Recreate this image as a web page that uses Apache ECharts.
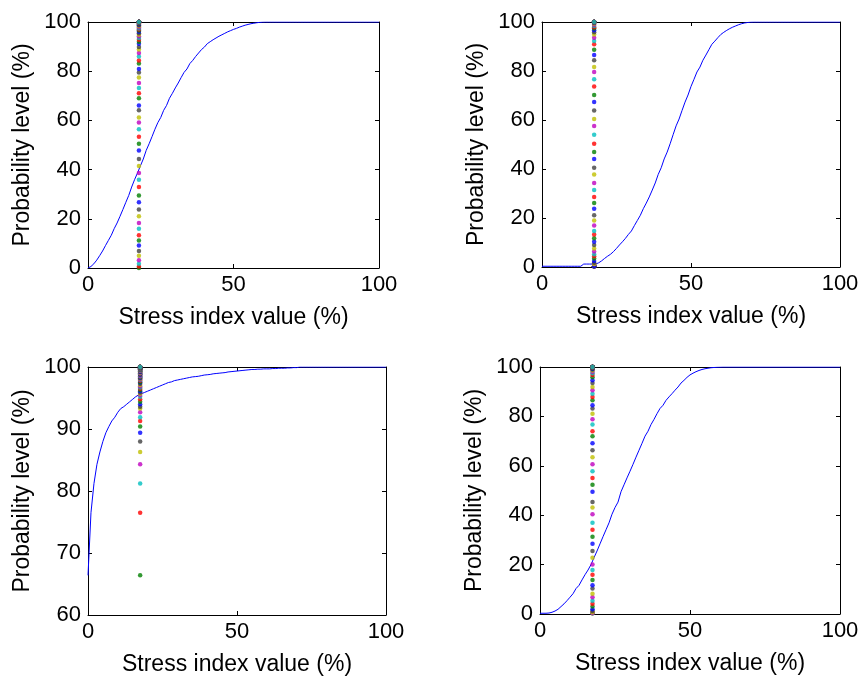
<!DOCTYPE html>
<html>
<head>
<meta charset="utf-8">
<script src="https://cdn.jsdelivr.net/npm/echarts/dist/echarts.min.js"></script>
<style>
    html, body { margin: 0; padding: 0; background: #fff; }
    #main { width: 863px; height: 678px; }
</style>
</head>
<body>
<div id="main"></div>
<script>
// x positions of the curve samples (stress index 0..100)
var stressIndex = [];
for (var k = 0; k <= 100; k++) {
    stressIndex.push(k);
}
// where the coloured dots are stacked
var markerX = 17.5;

// probability level (%)
var panel1 = [0, 0.6, 1.7, 3.2, 5.0, 6.9, 9.1, 11.2, 13.3, 16.0,
    18.3, 21.0, 23.8, 26.7, 29.5, 32.9, 35.9, 38.6, 41.5, 44.3,
    47.8, 50.5, 53.4, 56.4, 59.1, 61.2, 64.1, 66.1, 69.0, 71.0,
    73.2, 75.2, 77.4, 79.5, 80.9, 83.1, 84.4, 86.0, 87.4, 88.8,
    89.8, 91.2, 92.0, 92.8, 93.5, 94.2, 94.8, 95.4, 96.0, 96.5,
    97.0, 97.4, 97.9, 98.3, 98.7, 99.0, 99.3, 99.5, 99.7, 99.85,
    99.95, 100, 100, 100, 100, 100, 100, 100, 100, 100,
    100, 100, 100, 100, 100, 100, 100, 100, 100, 100,
    100, 100, 100, 100, 100, 100, 100, 100, 100, 100,
    100, 100, 100, 100, 100, 100, 100, 100, 100, 100, 100];

var panel2 = [0.3, 0.3, 0.3, 0.3, 0.3, 0.3, 0.3, 0.3, 0.3, 0.3,
    0.3, 0.3, 0.3, 0.3, 1.2, 1.2, 1.2, 1.2, 1.2, 1.7,
    2.5, 3.5, 4.4, 5.2, 6.3, 7.6, 9.0, 10.3, 11.7, 13.3,
    14.7, 16.9, 19.0, 21.1, 23.8, 26.1, 28.6, 31.4, 34.3, 37.8,
    40.5, 44.1, 46.9, 50.3, 54.0, 57.6, 60.4, 63.9, 67.3, 70.2,
    73.7, 76.6, 79.6, 81.6, 84.4, 86.5, 88.7, 90.9, 92.2, 93.6,
    94.9, 95.8, 96.6, 97.3, 97.9, 98.4, 98.9, 99.3, 99.6, 99.8,
    99.95, 100, 100, 100, 100, 100, 100, 100, 100, 100,
    100, 100, 100, 100, 100, 100, 100, 100, 100, 100,
    100, 100, 100, 100, 100, 100, 100, 100, 100, 100, 100];

var panel3 = [66.4, 76.5, 81.2, 84.3, 86.3, 88.0, 89.4, 90.4, 91.3, 91.9,
    92.7, 93.3, 93.6, 94.0, 94.4, 94.8, 95.2, 95.5, 95.7, 95.9,
    96.1, 96.3, 96.5, 96.7, 96.9, 97.1, 97.3, 97.5, 97.6, 97.8,
    97.9, 98.0, 98.1, 98.2, 98.3, 98.4, 98.45, 98.5, 98.6, 98.7,
    98.75, 98.8, 98.9, 98.95, 99.0, 99.05, 99.1, 99.2, 99.25, 99.3,
    99.35, 99.4, 99.45, 99.5, 99.55, 99.6, 99.6, 99.65, 99.65, 99.7,
    99.7, 99.7, 99.75, 99.75, 99.8, 99.8, 99.8, 99.85, 99.85, 99.9,
    99.9, 100, 100, 100, 100, 100, 100, 100, 100, 100,
    100, 100, 100, 100, 100, 100, 100, 100, 100, 100,
    100, 100, 100, 100, 100, 100, 100, 100, 100, 100, 100];

var panel4 = [0.3, 0.3, 0.3, 0.4, 0.7, 1.2, 1.9, 3.0, 4.1, 5.4,
    6.8, 8.2, 10.3, 11.6, 13.8, 15.9, 17.8, 20.0, 22.8, 25.5,
    28.4, 31.3, 34.1, 36.9, 40.4, 43.1, 45.3, 49.5, 52.3, 55.1,
    57.8, 60.6, 63.5, 66.3, 69.1, 72.0, 74.0, 76.7, 78.8, 81.1,
    83.2, 84.5, 86.5, 87.9, 89.2, 90.6, 91.9, 93.5, 94.6, 95.8,
    96.8, 97.5, 98.1, 98.6, 99.0, 99.3, 99.5, 99.7, 99.8, 99.9,
    99.95, 100, 100, 100, 100, 100, 100, 100, 100, 100,
    100, 100, 100, 100, 100, 100, 100, 100, 100, 100,
    100, 100, 100, 100, 100, 100, 100, 100, 100, 100,
    100, 100, 100, 100, 100, 100, 100, 100, 100, 100, 100];

var xTicks = { min: 0, max: 100, interval: 50 };
var yTicks = [
    { min: 0, max: 100, interval: 20 },
    { min: 0, max: 100, interval: 20 },
    { min: 60, max: 100, interval: 10 },
    { min: 0, max: 100, interval: 20 }
];
var panels = [panel1, panel2, panel3, panel4];

// matlab's old colour order, the dots start after the blue line
var dotColors = ['#008000', '#FF0000', '#00BFBF', '#BF00BF', '#BFBF00', '#404040', '#0000FF'];

var grids = [
    { left: 88, top: 22, width: 291, height: 246 },
    { left: 542, top: 22, width: 298, height: 245 },
    { left: 88, top: 367, width: 298, height: 248 },
    { left: 540, top: 367, width: 300, height: 247 }
];

var font = 'Liberation Sans, Arial, sans-serif';
var xAxes = [], yAxes = [], series = [];

for (var i = 0; i < 4; i++) {
    var lineData = [], dotData = [];
    for (var j = 0; j < stressIndex.length; j++) {
        lineData.push([stressIndex[j], panels[i][j]]);
        dotData.push([markerX, panels[i][j]]);
    }
    // bottom + top x axis (box)
    xAxes.push({
        gridIndex: i, type: 'value', position: 'bottom',
        min: xTicks.min, max: xTicks.max, interval: xTicks.interval,
        name: 'Stress index value (%)', nameLocation: 'middle', nameGap: 38,
        nameTextStyle: { fontSize: 23, color: '#000', fontFamily: font },
        axisLine: { show: true, onZero: false, lineStyle: { color: '#000', width: 1 } },
        axisTick: { inside: true, length: 4, lineStyle: { color: '#000' } },
        axisLabel: { fontSize: 22, color: '#000', margin: 6, fontFamily: font },
        splitLine: { show: false }
    });
    xAxes.push({
        gridIndex: i, type: 'value', position: 'top',
        min: xTicks.min, max: xTicks.max, interval: xTicks.interval,
        axisLine: { show: true, onZero: false, lineStyle: { color: '#000', width: 1 } },
        axisTick: { inside: true, length: 4, lineStyle: { color: '#000' } },
        axisLabel: { show: false },
        splitLine: { show: false }
    });
    // left + right y axis
    yAxes.push({
        gridIndex: i, type: 'value', position: 'left',
        min: yTicks[i].min, max: yTicks[i].max, interval: yTicks[i].interval,
        name: 'Probability level (%)', nameLocation: 'middle', nameGap: 54,
        nameTextStyle: { fontSize: 23, color: '#000', fontFamily: font },
        axisLine: { show: true, onZero: false, lineStyle: { color: '#000', width: 1 } },
        axisTick: { inside: true, length: 4, lineStyle: { color: '#000' } },
        axisLabel: { fontSize: 22, color: '#000', margin: 7, fontFamily: font },
        splitLine: { show: false }
    });
    yAxes.push({
        gridIndex: i, type: 'value', position: 'right',
        min: yTicks[i].min, max: yTicks[i].max, interval: yTicks[i].interval,
        axisLine: { show: true, onZero: false, lineStyle: { color: '#000', width: 1 } },
        axisTick: { inside: true, length: 4, lineStyle: { color: '#000' } },
        axisLabel: { show: false },
        splitLine: { show: false }
    });

    series.push({
        type: 'line',
        xAxisIndex: 2 * i, yAxisIndex: 2 * i,
        data: lineData,
        showSymbol: false,
        symbol: 'none',
        lineStyle: { color: '#0000FF', width: 1 },
        z: 2
    });
    series.push({
        type: 'scatter',
        xAxisIndex: 2 * i, yAxisIndex: 2 * i,
        data: dotData,
        symbolSize: 4.5,
        itemStyle: {
            color: function (p) {
                return dotColors[p.dataIndex % 7];
            }
        },
        z: 3
    });
}

var myChart = echarts.init(document.getElementById('main'));
myChart.setOption({
    animation: false,
    backgroundColor: '#fff',
    grid: grids,
    xAxis: xAxes,
    yAxis: yAxes,
    series: series
});
</script>
</body>
</html>
